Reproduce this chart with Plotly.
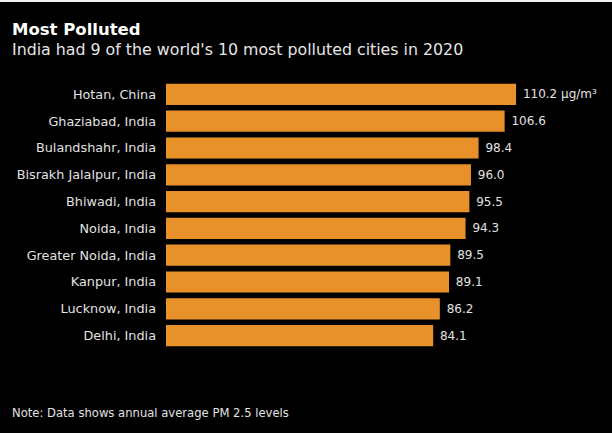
import plotly.graph_objects as go

cities = ["Hotan, China", "Ghaziabad, India", "Bulandshahr, India", "Bisrakh Jalalpur, India",
          "Bhiwadi, India", "Noida, India", "Greater Noida, India", "Kanpur, India",
          "Lucknow, India", "Delhi, India"]
pm25 = [110.2, 106.6, 98.4, 96.0, 95.5, 94.3, 89.5, 89.1, 86.2, 84.1]
unit = " µg/m³"

labels = ["\u00a0" + f"{v:.1f}" + (unit if i == 0 else "") for i, v in enumerate(pm25)]

W, H = 612, 433
ML, MR, MT, MB = 166, 0, 81, 84
pw, ph = W - ML - MR, H - MT - MB

fig = go.Figure(go.Bar(
    x=pm25, y=cities, orientation="h",
    marker=dict(color="#E8912B", line=dict(width=0)),
    text=labels, textposition="outside", cliponaxis=False,
    textfont=dict(color="#e2e2e2", size=12, family="DejaVu Sans"),
))

specs = [("<b>Most Polluted</b>", 10, 30, 16.5, "#ffffff"),
         ("India had 9 of the world's 10 most polluted cities in 2020", 10, 50, 15.8, "#e6e6e6"),
         ("Note: Data shows annual average PM 2.5 levels", 10, 413, 11.6, "#e2e2e2")]
anns = []
for t, px, py, sz, col in specs:
    anns.append(dict(text=t, xref="paper", yref="paper",
                     x=(px - ML) / pw, y=1 - (py - MT) / ph,
                     xanchor="left", yanchor="middle", showarrow=False,
                     font=dict(size=sz, color=col, family="DejaVu Sans")))

fig.update_layout(
    width=W, height=H,
    paper_bgcolor="black", plot_bgcolor="black",
    margin=dict(l=ML, r=MR, t=MT, b=MB),
    bargap=0.21,
    showlegend=False,
    font=dict(family="DejaVu Sans", color="#e2e2e2"),
    xaxis=dict(range=[0, 140.4], visible=False),
    yaxis=dict(autorange="reversed", showgrid=False, zeroline=False, showline=False,
               ticks="", ticklabelstandoff=9,
               tickfont=dict(size=12.8, color="#e2e2e2", family="DejaVu Sans")),
    annotations=anns,
    shapes=[dict(type="rect", xref="paper", yref="paper",
                 x0=-ML / pw, x1=1, y0=1 + (MT - 2) / ph, y1=1 + MT / ph,
                 fillcolor="#f0f0f0", line=dict(width=0), layer="above")],
)

fig.write_html("out.html", config={"displayModeBar": False},
               post_script="document.body.style.margin='0';document.body.style.background='black';")
